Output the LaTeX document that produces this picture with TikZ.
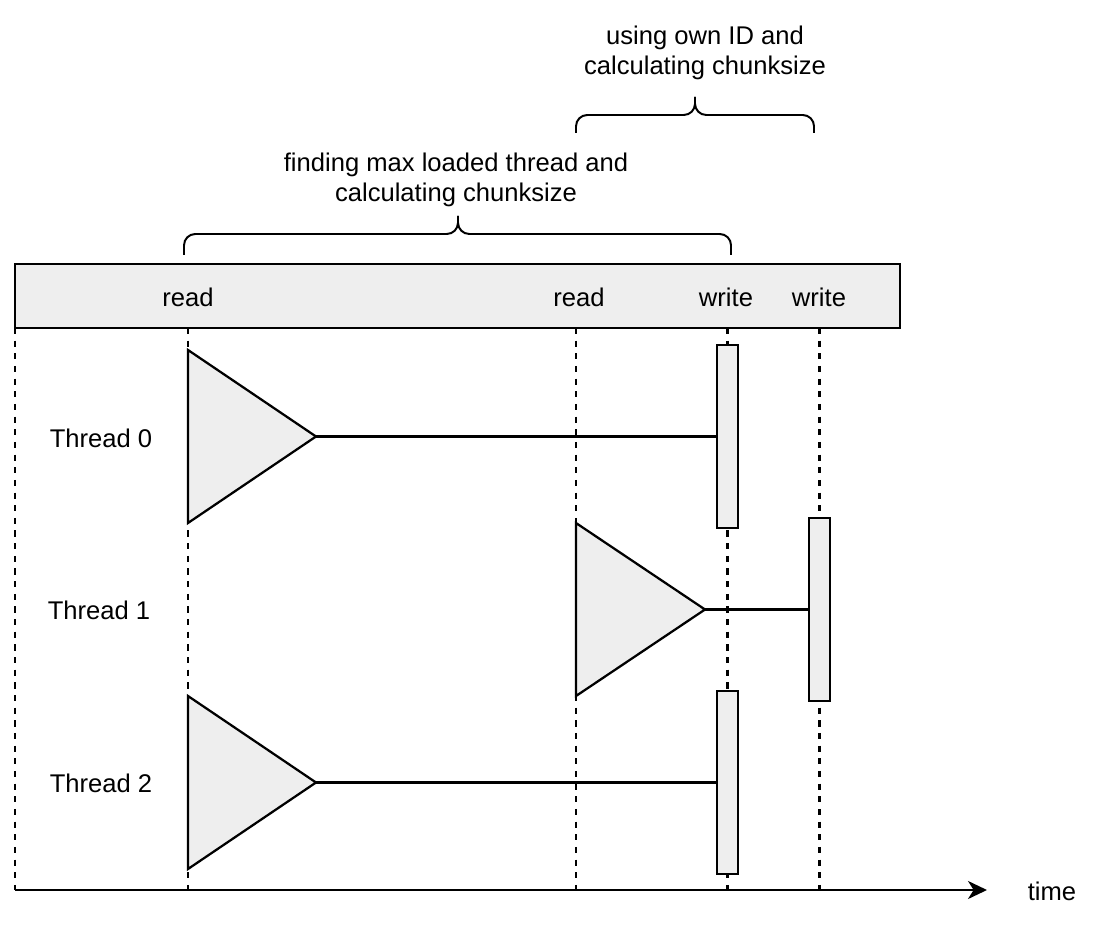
\documentclass[tikz,border=0pt]{standalone}
\usepackage{fontspec}
\setmainfont{Liberation Sans}
\usepackage{tikz}
\usetikzlibrary{arrows.meta}
\definecolor{boxgray}{HTML}{EEEEEE}
\newcommand{\lw}{1.6pt}
\newcommand{\barw}{0.525cm}
\newcommand{\barh}{4.575cm}

\begin{document}
\begin{tikzpicture}[x=0.025cm,y=-0.025cm,
  every node/.style={font=\fontsize{18.2}{21.3}\selectfont},
  lane/.style={line width=1.7pt,dash pattern=on 4.4pt off 4.6pt},
  bar/.style={draw,fill=boxgray,line width=\lw,minimum width=\barw,minimum height=\barh,inner sep=0pt},
  tri/.style={draw,fill=boxgray,line width=\lw,line join=miter},
  brk/.style={line width=1.4pt,rounded corners=8pt}]
\useasboundingbox (0,0) rectangle (1098,925);
%header
\node[draw,fill=boxgray,line width=\lw,minimum width=22.125cm,minimum height=1.6cm,inner sep=0pt] (hdr) at (457.5,296) {};
\node (rd0) at (188,297) {read};
\node (rd1) at (579,297) {read};
\node (wr0) at (726,297) {write};
\node (wr1) at (819,297) {write};
%lanes
\coordinate (l0) at (15,328);
\coordinate (l1) at (188,328);
\coordinate (l2) at (576,328);
\coordinate (l3) at (727.5,328);
\coordinate (l4) at (819.5,328);
\coordinate (o) at (15,890);
\coordinate (tend) at (987,890);
\draw[lane] (l0) -- (o);
\draw[lane] (l1) -- (l1 |- o);
\draw[lane] (l2) -- (l2 |- o);
\draw[lane] (l3) -- (l3 |- o);
\draw[lane] (l4) -- (l4 |- o);
\draw[line width=\lw,-{Stealth[length=13.5pt,width=12.8pt,inset=4pt]}] (o) -- (tend);
\node (time) at (1052,891) {time};
%threads
\node (th0) at (101,438) {Thread 0};
\node (th1) at (99,610) {Thread 1};
\node (th2) at (101,783) {Thread 2};
\node[bar] (w0) at (727.5,436.5) {};
\node[bar] (w1) at (819.5,609.5) {};
\node[bar] (w2) at (727.5,782.5) {};
\coordinate (t0) at (316,436.5);
\coordinate (t1) at (705,609.5);
\coordinate (t2) at (316,782.5);
\draw[tri] (188,350) -- (188,523) -- (t0) -- cycle;
\draw[tri] (576,523) -- (576,696) -- (t1) -- cycle;
\draw[tri] (188,696) -- (188,869) -- (t2) -- cycle;
\draw[line width=\lw] (t0) -- (w0.west);
\draw[line width=\lw] (t1) -- (w1.west);
\draw[line width=\lw] (t2) -- (w2.west);
%braces
\coordinate (b0a) at (184,255);
\coordinate (b0b) at (731,255);
\coordinate (b0tip) at (458,216);
\coordinate (b1a) at (576,133);
\coordinate (b1b) at (814,133);
\coordinate (b1tip) at (695,97);
\draw[brk] (b0a) |- (458,234) -- (b0tip);
\draw[brk] (b0b) |- (458,234) -- (b0tip);
\draw[brk] (b1a) |- (695,115) -- (b1tip);
\draw[brk] (b1b) |- (695,115) -- (b1tip);
\node[align=center] (txt0) at (456,180) {finding max loaded thread and\\calculating chunksize};
\node[align=center] (txt1) at (705,53) {using own ID and\\calculating chunksize};
\end{tikzpicture}
\end{document}
